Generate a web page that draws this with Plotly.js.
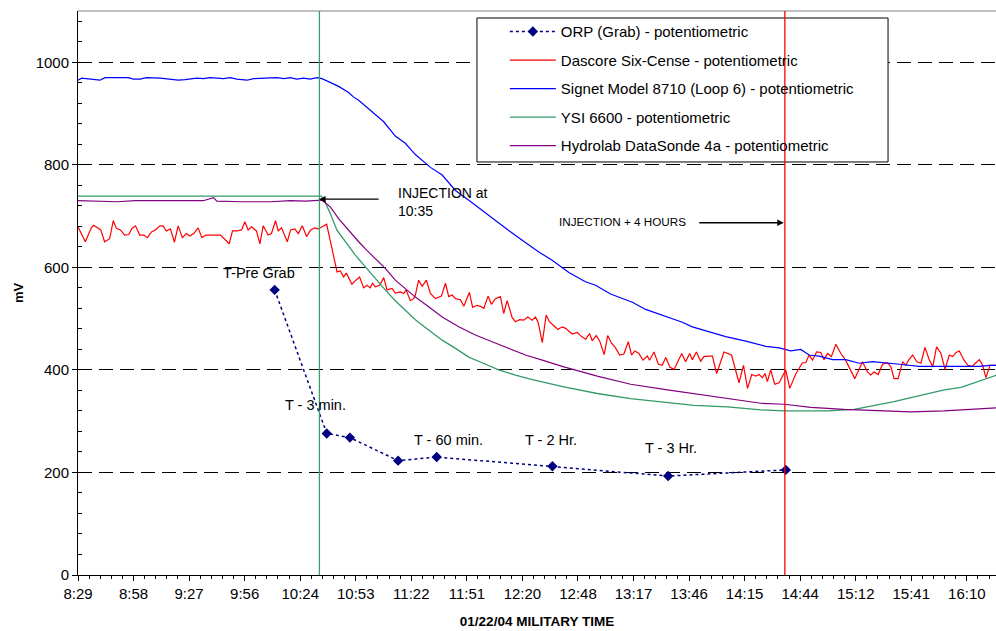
<!DOCTYPE html>
<html><head><meta charset="utf-8">
<script src="https://cdn.plot.ly/plotly-3.0.1.min.js"></script>
<style>html,body{margin:0;padding:0;background:#fff;}#chart{width:996px;height:631px;}</style>
</head><body><div id="chart"></div>
<script>
// x values are minutes after the axis origin (08:29)
const START_MIN = 509.04;
const tickLabels = ["8:29","8:58","9:27","9:56","10:24","10:53","11:22","11:51","12:20","12:48","13:17","13:46","14:15","14:44","15:12","15:41","16:10"];

const orpTime = ["10:11","10:38","10:50","11:15","11:35","12:35","13:35","14:36"];
const orpMV   = [556, 276, 268, 223, 230, 212, 193, 205];

const dascoreMin = [0,3.8,6.9,8.1,11.8,13.8,16.4,18.3,19.9,22.0,24.2,26.3,28.0,29.8,32.0,34.1,36.0,38.1,40.1,42.4,44.1,45.8,47.9,50.0,51.9,54.1,56.2,58.0,60.0,62.3,64.2,66.3,73.9,78.4,80.1,82.5,84.8,86.5,88.2,90.0,92.5,94.3,96.0,98.6,100.3,102.4,103.8,105.5,108.5,110.2,112.4,114.2,116.3,118.5,120.6,122.7,124.6,126.8,128.9,131.5,134.3,136.0,137.7,139.1,140.3,142.0,144.1,146.0,148.1,149.8,151.5,152.7,154.1,156.4,158.5,160.2,162.8,164.5,167.1,168.8,170.1,172.3,174.0,174.9,176.6,178.4,180.6,182.7,185.3,188.4,190.5,192.2,194.0,195.7,198.3,200.0,202.9,204.6,206.9,208.6,210.4,212.6,214.3,216.4,219.0,220.7,222.5,225.1,226.8,228.9,231.1,233.2,235.5,237.2,238.6,240.7,242.7,244.4,246.7,248.8,251.0,252.8,256.2,258.8,261.1,263.2,265.2,266.6,268.7,270.4,272.8,274.6,276.6,278.7,280.8,283.0,285.3,287.0,288.7,290.8,292.9,295.2,296.3,298.6,300.9,302.9,304.7,306.9,309.0,313.0,315.0,317.1,318.5,320.6,322.8,324.5,326.8,328.9,331.1,334.9,338.8,342.7,345.0,347.1,349.3,351.4,353.1,354.8,356.2,357.4,359.1,361.2,363.5,366.9,369.0,372.1,375.6,377.3,379.0,380.8,382.9,385.1,386.8,388.6,390.6,392.9,395.5,398.1,402.7,406.7,409.3,411.0,412.7,414.8,417.1,419.7,421.4,423.1,425.2,427.5,429.2,430.6,432.7,434.9,437.0,439.1,441.3,443.1,445.1,447.4,449.5,451.7,453.5,455.2,456.9,459.2,461.3,463.5,465.5,467.3,469.0,470.7,472.8,476.4];
const dascoreMV = [679,650,677,682,673,650,656,691,676,673,663,664,676,681,663,663,658,669,673,681,681,671,675,649,681,658,666,661,666,677,658,663,663,646,671,671,673,689,673,679,671,646,681,663,666,691,671,677,650,673,675,666,681,660,673,677,675,680,684,640,591,593,581,589,580,567,575,581,560,565,560,569,562,565,580,556,559,550,552,549,556,535,539,546,575,563,575,549,539,544,569,543,546,539,537,524,551,522,526,524,520,544,528,539,543,510,535,502,494,498,497,503,497,503,492,453,507,494,486,479,484,481,470,473,465,460,471,457,467,457,430,467,452,443,429,431,455,429,437,432,419,427,419,435,411,409,424,405,401,432,416,432,420,435,417,426,427,427,393,435,429,375,409,364,391,388,391,385,393,377,400,372,375,400,364,392,414,414,429,419,435,434,420,432,426,450,432,418,383,416,396,390,396,391,411,414,406,383,383,416,409,419,429,416,413,444,420,406,445,432,401,429,426,434,437,420,409,407,414,420,409,385,409,409];

const signetMin = [0,1.9,11.4,14.0,26.1,28.7,32.2,35.6,42.6,49.5,52.0,55.5,61.6,65.0,68.5,75.4,78.9,82.4,87.6,91.0,97.9,103.1,106.6,110.0,113.5,116.9,120.4,123.9,126.5,129.9,135.1,140.3,142.9,145.5,151.5,158.5,164.5,169.7,174.9,182.7,188.8,195.7,202.6,209.5,216.4,223.3,230.3,238.9,245.8,254.5,263.1,268.3,276.1,287.4,294.3,304.7,313.3,318.5,327.1,335.8,346.2,356.6,363.5,366.9,369.5,374.7,379.0,384.2,391.2,398.1,401.6,405.0,412.0,418.8,425.7,436.1,446.5,456.9,467.3,472.5,476.4];
const signetMV  = [965,969,965,970,970,967,967,970,969,967,965,966,969,968,970,968,970,967,965,968,969,970,968,970,967,969,967,970,968,962,953,941,932,926,906,884,856,842,820,795,780,750,731,711,692,672,653,630,614,590,572,565,548,532,518,504,493,484,474,465,456,446,443,440,437,440,429,427,420,420,416,413,416,413,411,407,407,406,407,409,409];

const ysiMin = [0,126.1,127.3,130.8,134.3,138.6,143.8,149.0,154.1,159.3,164.5,169.7,174.9,181.8,188.8,195.7,202.6,209.5,218.1,226.8,235.5,251.9,269.2,286.5,302.0,319.3,336.7,345.3,354.0,366.1,388.6,402.4,414.5,423.1,431.8,440.5,449.1,457.8,466.4,476.4];
const ysiMV  = [739,739,734,705,672,650,624,601,578,556,535,517,498,478,458,442,425,414,400,390,381,367,354,344,338,331,328,325,322,320,320,323,331,338,346,353,361,366,377,390];

const hydroMin = [0,10,20,30,45,55,65,70.2,72,85,100,110,118,126.5,130.8,135.1,140.3,145.5,149.8,154.1,159.3,164.5,169.7,174.9,181.8,188.8,197.4,206.0,214.7,223.3,232.0,240.7,251.9,269.2,286.5,303.8,319.3,336.7,354.0,366.1,379.9,397.2,414.5,431.8,449.1,466.4,476.4];
const hydroMV  = [730,729,728,730,730,729,730,736,729,728,728,730,729,731,718,695,672,650,633,617,598,575,559,542,523,503,484,468,455,442,429,419,406,388,372,362,354,344,335,333,327,323,320,318,320,323,326];

const injectionMin = 634.2;      // drawn marker line, minutes after midnight
const injectionPlus4Min = 875.5;

function toOffset(hm){ const p = hm.split(':').map(Number); return p[0]*60 + p[1] - START_MIN; }

const FONT = "Liberation Sans, Arial, sans-serif";
const AX_END = 475.92;
const majorX = tickLabels.map((_, i) => i * 28.8);
const minorX = []; for (let i = 0; i * 5.76 <= AX_END + 0.01; i++) minorX.push(i * 5.76);

const traces = [
  {name:'ORP (Grab) - potentiometric', legendgroup:'a', x: orpTime.map(toOffset), y: orpMV, mode:'lines+markers',
   line:{color:'#000080', width:1.5, dash:'dot'}, marker:{symbol:'diamond', size:8, color:'#000080'}},
  {name:'Dascore Six-Cense - potentiometric', legendgroup:'b', x: dascoreMin, y: dascoreMV, mode:'lines', line:{color:'#FF0000', width:1.2}},
  {name:'Signet Model 8710 (Loop 6) - potentiometric', legendgroup:'c', x: signetMin, y: signetMV, mode:'lines', line:{color:'#0000FF', width:1.2}},
  {name:'YSI 6600 - potentiometric', legendgroup:'d', x: ysiMin, y: ysiMV, mode:'lines', line:{color:'#339966', width:1.3}},
  {name:'Hydrolab DataSonde 4a - potentiometric', legendgroup:'e', x: hydroMin, y: hydroMV, mode:'lines', line:{color:'#800080', width:1.2}}
];

const annFont = {family: FONT, size: 14.5, color:'#000'};
const layout = {
  width: 996, height: 631,
  margin: {l:78, r:0, t:11, b:56, pad:0},
  paper_bgcolor:'#fff', plot_bgcolor:'#fff',
  font: {family: FONT, color:'#000'},
  showlegend: true,
  legend: {x: 0.465, y: 0.9924, xanchor:'left', yanchor:'top', bgcolor:'rgba(0,0,0,0)', borderwidth:0,
           font:{family: FONT, size:15, color:'#000'}, traceorder:'grouped', tracegroupgap:6, itemwidth:46},
  xaxis: {range:[0, AX_END], tickmode:'array', tickvals: majorX, ticktext: tickLabels,
          ticks:'outside', ticklen:5, tickwidth:1, tickcolor:'#000',
          showline:true, linecolor:'#000', linewidth:1, showgrid:false, zeroline:false,
          tickfont:{family: FONT, size:15, color:'#000'},
          title:{text:'<b>01/22/04 MILITARY TIME</b>', font:{family: FONT, size:13.5, color:'#000'}, standoff:15},
          minor:{tickmode:'array', tickvals: minorX, ticks:'outside', ticklen:3, tickwidth:1, tickcolor:'#000', showgrid:false}},
  xaxis2: {overlaying:'x', matches:'x', range:[0, AX_END], anchor:'y', side:'bottom', tickmode:'array', tickvals: majorX,
           showticklabels:false, ticks:'inside', ticklen:5, tickwidth:1, tickcolor:'#000', showgrid:false, zeroline:false, showline:false},
  yaxis: {range:[0,1100], tickmode:'linear', tick0:0, dtick:200, ticks:'outside', ticklen:5, tickwidth:1, tickcolor:'#000',
          showline:true, linecolor:'#000', linewidth:1, showgrid:true, gridcolor:'#000', gridwidth:1, griddash:'14px,7px', zeroline:false,
          tickfont:{family: FONT, size:15, color:'#000'},
          title:{text:'<b>mV</b>', font:{family: FONT, size:13, color:'#000'}, standoff:9},
          minor:{tick0:0, dtick:40, ticks:'inside', ticklen:4, tickwidth:1, tickcolor:'#000', showgrid:false}},
  shapes: [
    {type:'line', xref:'paper', yref:'paper', x0:0, x1:1, y0:1, y1:1, line:{color:'#808080', width:1}},
    {type:'line', xref:'x', yref:'paper', x0: injectionMin - START_MIN, x1: injectionMin - START_MIN, y0:0, y1:1, line:{color:'#3a9e6e', width:1.3}, layer:'above'},
    {type:'rect', xref:'paper', yref:'paper', x0:0.4346, x1:0.8824, y0:0.7323, y1:0.9876, fillcolor:'#fff', line:{color:'#000', width:1}, layer:'above'},
    {type:'line', xref:'x', yref:'paper', x0: injectionPlus4Min - START_MIN, x1: injectionPlus4Min - START_MIN, y0:0, y1:1, line:{color:'#FF0000', width:1.3}, layer:'above'}
  ],
  annotations: [
    {text:'T-Pre Grab', x:93.6, y:589, xref:'x', yref:'y', showarrow:false, xanchor:'center', yanchor:'middle', font:annFont},
    {text:'T - 3 min.', x:106.2, y:331, xref:'x', yref:'y', showarrow:false, xanchor:'left', yanchor:'middle', font:annFont},
    {text:'T - 60 min.', x:173, y:263, xref:'x', yref:'y', showarrow:false, xanchor:'left', yanchor:'middle', font:annFont},
    {text:'T - 2 Hr.', x:230.5, y:263, xref:'x', yref:'y', showarrow:false, xanchor:'left', yanchor:'middle', font:annFont},
    {text:'T - 3 Hr.', x:293, y:248, xref:'x', yref:'y', showarrow:false, xanchor:'left', yanchor:'middle', font:annFont},
    {text:'INJECTION at<br>10:35', x:164.9, y:728, xref:'x', yref:'y', showarrow:false, xanchor:'left', yanchor:'middle', align:'left', font:{family: FONT, size:14, color:'#000'}},
    {text:'INJECTION + 4 HOURS', x:248.2, y:688.7, xref:'x', yref:'y', showarrow:false, xanchor:'left', yanchor:'middle', font:{family: FONT, size:11.7, color:'#000'}},
    {text:'', x:125, y:733, xref:'x', yref:'y', ax:61, ay:0, showarrow:true, arrowhead:2, arrowsize:1, arrowwidth:1.3, arrowcolor:'#000', standoff:0},
    {text:'', x:365.9, y:687, xref:'x', yref:'y', ax:-86, ay:0, showarrow:true, arrowhead:2, arrowsize:1, arrowwidth:1.3, arrowcolor:'#000', standoff:0}
  ]
};

Plotly.newPlot('chart', traces, layout, {staticPlot:true, displayModeBar:false});
</script>
</body></html>
